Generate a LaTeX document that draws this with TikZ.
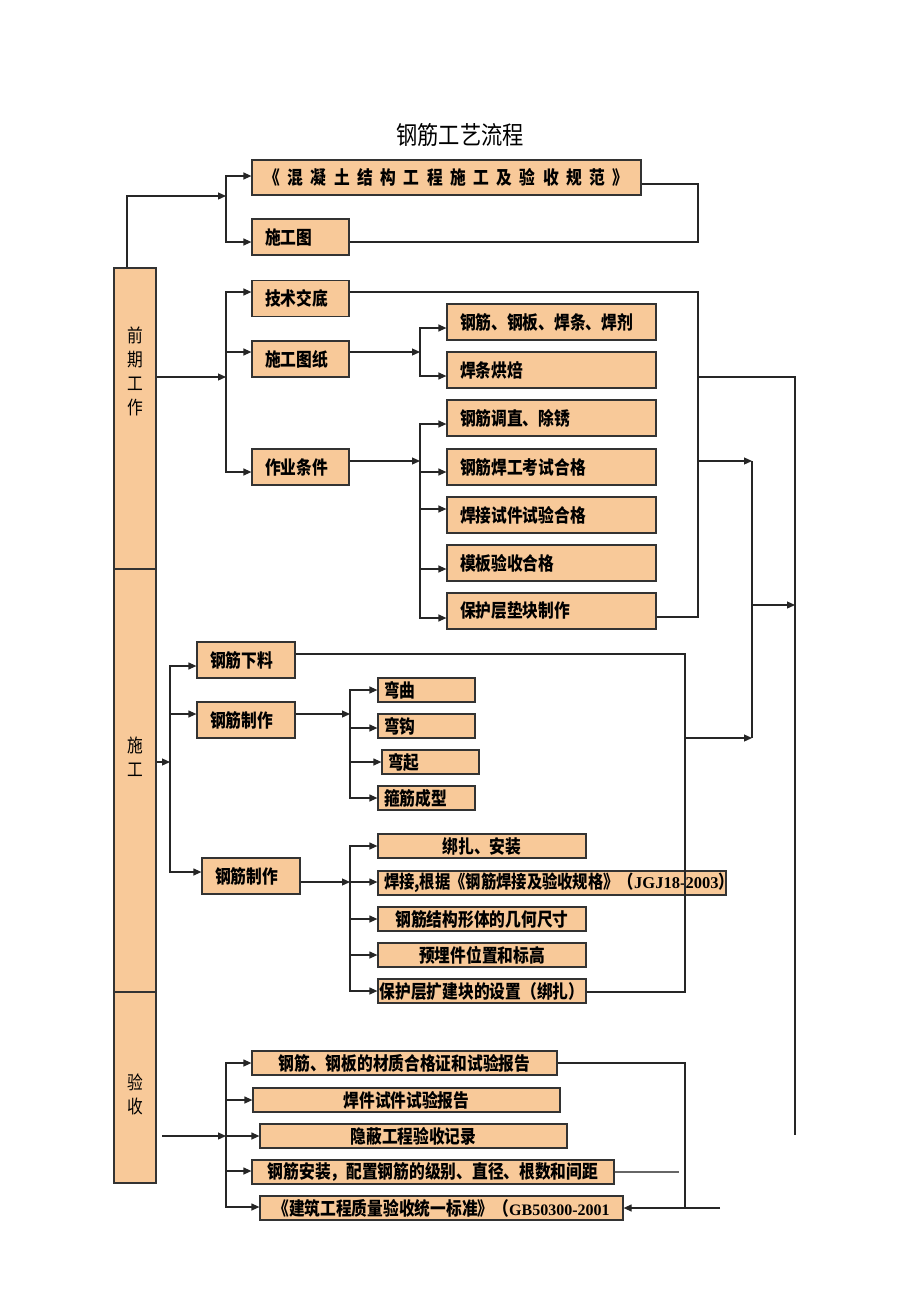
\documentclass[tikz,border=0pt]{standalone}
\usepackage{fontspec}
\setmainfont{Noto Sans CJK SC}[FakeStretch=0.85]
\newfontfamily\serifbf{Liberation Serif}
\usetikzlibrary{arrows.meta}
\definecolor{boxorange}{HTML}{F8C999}
\newcommand\hs{\hspace{7.5pt}}

\begin{document}
\begin{tikzpicture}
            [x=1pt, y=-1pt, font=\fontsize{18.5pt}{24pt}\selectfont,
            every node/.style={inner sep=0pt},
            % box/.style={top color=white, bottom color=boxorange, drop shadow},
            box/.style={draw=black!80, fill=boxorange, line width=1.2pt,
                font=\fontsize{18.5pt}{20pt}\selectfont\bfseries},
            sidebox/.style={draw=black!80, fill=boxorange, line width=1.2pt, minimum width=42pt},
            tallbox/.style={box, minimum height=36pt, minimum width=#1},
            tallleft/.style={box, minimum height=36pt, text width=#1, align=left, inner xsep=13pt},
            lowbox/.style={box, minimum height=24pt, minimum width=#1},
            lowleft/.style={box, minimum height=24pt, text width=#1, align=left, inner xsep=6pt},
            conn/.style={draw=black!85, line width=1.2pt},
            arr/.style={conn, -{Triangle[length=8pt, width=7pt]}}]
            \useasboundingbox (0,0) rectangle (920,1302);
            \node (title) at (460,135) {\fontsize{25pt}{28pt}\selectfont 钢筋工艺流程};
            % left column
            \node [sidebox, minimum height=301pt] (qianqi) at (135,418.5) {};
            \node [align=center] (qianqitext) at (135,371) {前\\期\\工\\作};
            \node [sidebox, minimum height=423pt] (shigong) at (135,780.5) {};
            \node [align=center] (shigongtext) at (135,757) {施\\工};
            \node [sidebox, minimum height=191pt] (yanshou) at (135,1087.5) {};
            \node [align=center] (yanshoutext) at (135,1094) {验\\收};
            % norms and drawings
            \node [tallbox=389pt, minimum height=35pt] (guifan) at (446.5,177.5)
                {《\hs 混\hs 凝\hs 土\hs 结\hs 构\hs 工\hs 程\hs 施\hs 工\hs 及\hs 验\hs 收\hs 规\hs 范\hs 》};
            \node [tallleft=71pt] (shigongtu) at (300.5,237) {施工图};
            \coordinate (fork1) at (226,196);
            \draw [arr] (qianqi.north -| 127,0) |- (fork1);
            \draw [arr] (fork1) |- (guifan.west |- 0,176);
            \draw [arr] (fork1) |- (shigongtu.west |- 0,242);
            \draw [conn] (guifan.east |- 0,184) -- (698,184) -- (698,242) -- (shigongtu.east |- 0,242);
            % preparation
            \node [tallleft=71pt] (jishu) at (300.5,298.5) {技术交底};
            \node [tallleft=71pt] (tuzhi) at (300.5,359) {施工图纸};
            \node [tallleft=71pt] (zuoye) at (300.5,467) {作业条件};
            \node [tallleft=183pt] (hangang) at (551.5,322) {钢筋、钢板、焊条、焊剂};
            \node [tallleft=183pt] (hongbei) at (551.5,370) {焊条烘焙};
            \node [tallleft=183pt] (tiaozhi) at (551.5,418) {钢筋调直、除锈};
            \node [tallleft=183pt] (kaoshi) at (551.5,467) {钢筋焊工考试合格};
            \node [tallleft=183pt] (shijian) at (551.5,515) {焊接试件试验合格};
            \node [tallleft=183pt] (moban) at (551.5,563) {模板验收合格};
            \node [tallleft=183pt] (dianku) at (551.5,611) {保护层垫块制作};
            \coordinate (fork2) at (226,377);
            \draw [arr] (qianqi.east |- fork2) -- (fork2);
            \draw [arr] (fork2) |- (jishu.west |- 0,292);
            \draw [arr] (fork2) |- (tuzhi.west |- 0,352);
            \draw [arr] (fork2) |- (zuoye.west |- 0,472);
            \coordinate (fork3) at (420,352);
            \draw [arr] (tuzhi.east |- fork3) -- (fork3);
            \draw [arr] (fork3) |- (hangang.west |- 0,328);
            \draw [arr] (fork3) |- (hongbei.west |- 0,376);
            \coordinate (fork4) at (420,461);
            \draw [arr] (zuoye.east |- fork4) -- (fork4);
            \foreach \n/\y in {tiaozhi/424, kaoshi/472, shijian/509, moban/569, dianku/618}
                \draw [arr] (fork4) |- (\n.west |- 0,\y);
            % right rails
            \coordinate (rail1) at (698,461);
            \coordinate (rail2) at (752,461);
            \coordinate (rail3) at (795,377);
            \coordinate (railend) at (795,1135);
            \draw [conn] (jishu.east |- 0,292) -- (698,292) -- (698,617) -- (dianku.east |- 0,617);
            \draw [conn] (698,377) -- (rail3) -- (railend);
            \draw [arr] (rail1) -- (rail2);
            \draw [conn] (rail2) -- (752,738);
            \draw [arr] (752,605) -- (795,605);
            % construction
            \node [tallleft=72pt] (xialiao) at (246,660) {钢筋下料};
            \node [tallleft=72pt] (zhizuo) at (246,720) {钢筋制作};
            \node [tallleft=72pt] (zhizuob) at (251,876) {钢筋制作};
            \coordinate (fork5) at (170,762);
            \draw [arr] (shigong.east |- fork5) -- (fork5);
            \draw [arr] (fork5) |- (xialiao.west |- 0,666);
            \draw [arr] (fork5) |- (zhizuo.west |- 0,714);
            \draw [arr] (fork5) |- (zhizuob.west |- 0,872);
            \node [lowleft=85pt] (wanqu) at (426.5,690) {弯曲};
            \node [lowleft=85pt] (wangou) at (426.5,726) {弯钩};
            \node [lowleft=85pt] (wanqi) at (430.5,762) {弯起};
            \node [lowleft=85pt] (gujin) at (426.5,798) {箍筋成型};
            \coordinate (fork6) at (350,714);
            \draw [arr] (zhizuo.east |- fork6) -- (fork6);
            \foreach \n/\y in {wanqu/690, wangou/728, wanqi/762, gujin/798}
                \draw [arr] (fork6) |- (\n.west |- 0,\y);
            \node [lowbox=208pt] (bangzha) at (482,846) {绑扎、安装};
            \node [lowleft=336pt] (hanjie) at (552,883)
                {\makebox[336pt][l]{\fontsize{18pt}{20pt}\selectfont 焊接,根据《钢筋焊接及验收规格》（{\serifbf\fontsize{16.5pt}{20pt}\selectfont\bfseries JGJ18-2003}）}};
            \node [lowbox=208pt] (jihe) at (482,919) {钢筋结构形体的几何尺寸};
            \node [lowbox=208pt] (yumai) at (482,955) {预埋件位置和标高};
            \node [lowbox=208pt] (baohu) at (482,991) {保护层扩建块的设置（绑扎）};
            \coordinate (fork7) at (350,882);
            \draw [arr] (zhizuob.east |- fork7) -- (fork7);
            \foreach \n/\y in {bangzha/846, hanjie/882, jihe/919, yumai/955, baohu/991}
                \draw [arr] (fork7) |- (\n.west |- 0,\y);
            \draw [conn] (xialiao.east |- 0,654) -- (685,654) -- (685,992) -- (baohu.east |- 0,992);
            \draw [arr] (685,738) -- (752,738);
            % acceptance
            \node [lowbox=305pt] (cert) at (404.5,1063) {钢筋、钢板的材质合格证和试验报告};
            \node [lowbox=307pt] (hanjian) at (406.5,1100) {焊件试件试验报告};
            \node [lowbox=307pt] (yinbi) at (413.5,1136) {隐蔽工程验收记录};
            \node [lowbox=362pt] (anzhuang) at (433,1172) {钢筋安装，配置钢筋的级别、直径、根数和间距};
            \node [lowbox=363pt] (biaozhun) at (441.5,1208)
                {《建筑工程质量验收统一标准》（{\serifbf\fontsize{16pt}{20pt}\selectfont\bfseries GB50300-2001}};
            \coordinate (ystart) at (162,1136);
            \coordinate (fork8) at (226,1136);
            \draw [arr] (ystart) -- (fork8);
            \foreach \n/\y in {cert/1063, hanjian/1100, yinbi/1136, anzhuang/1171, biaozhun/1207}
                \draw [arr] (fork8) |- (\n.west |- 0,\y);
            \coordinate (yend) at (720,1208);
            \coordinate (aend) at (679,1172);
            \draw [conn] (cert.east) -- (685,1063) -- (685,1208);
            \draw [arr] (yend) -- (biaozhun.east);
            \draw [conn, draw=black!60] (anzhuang.east) -- (aend);
\end{tikzpicture}
\end{document}
